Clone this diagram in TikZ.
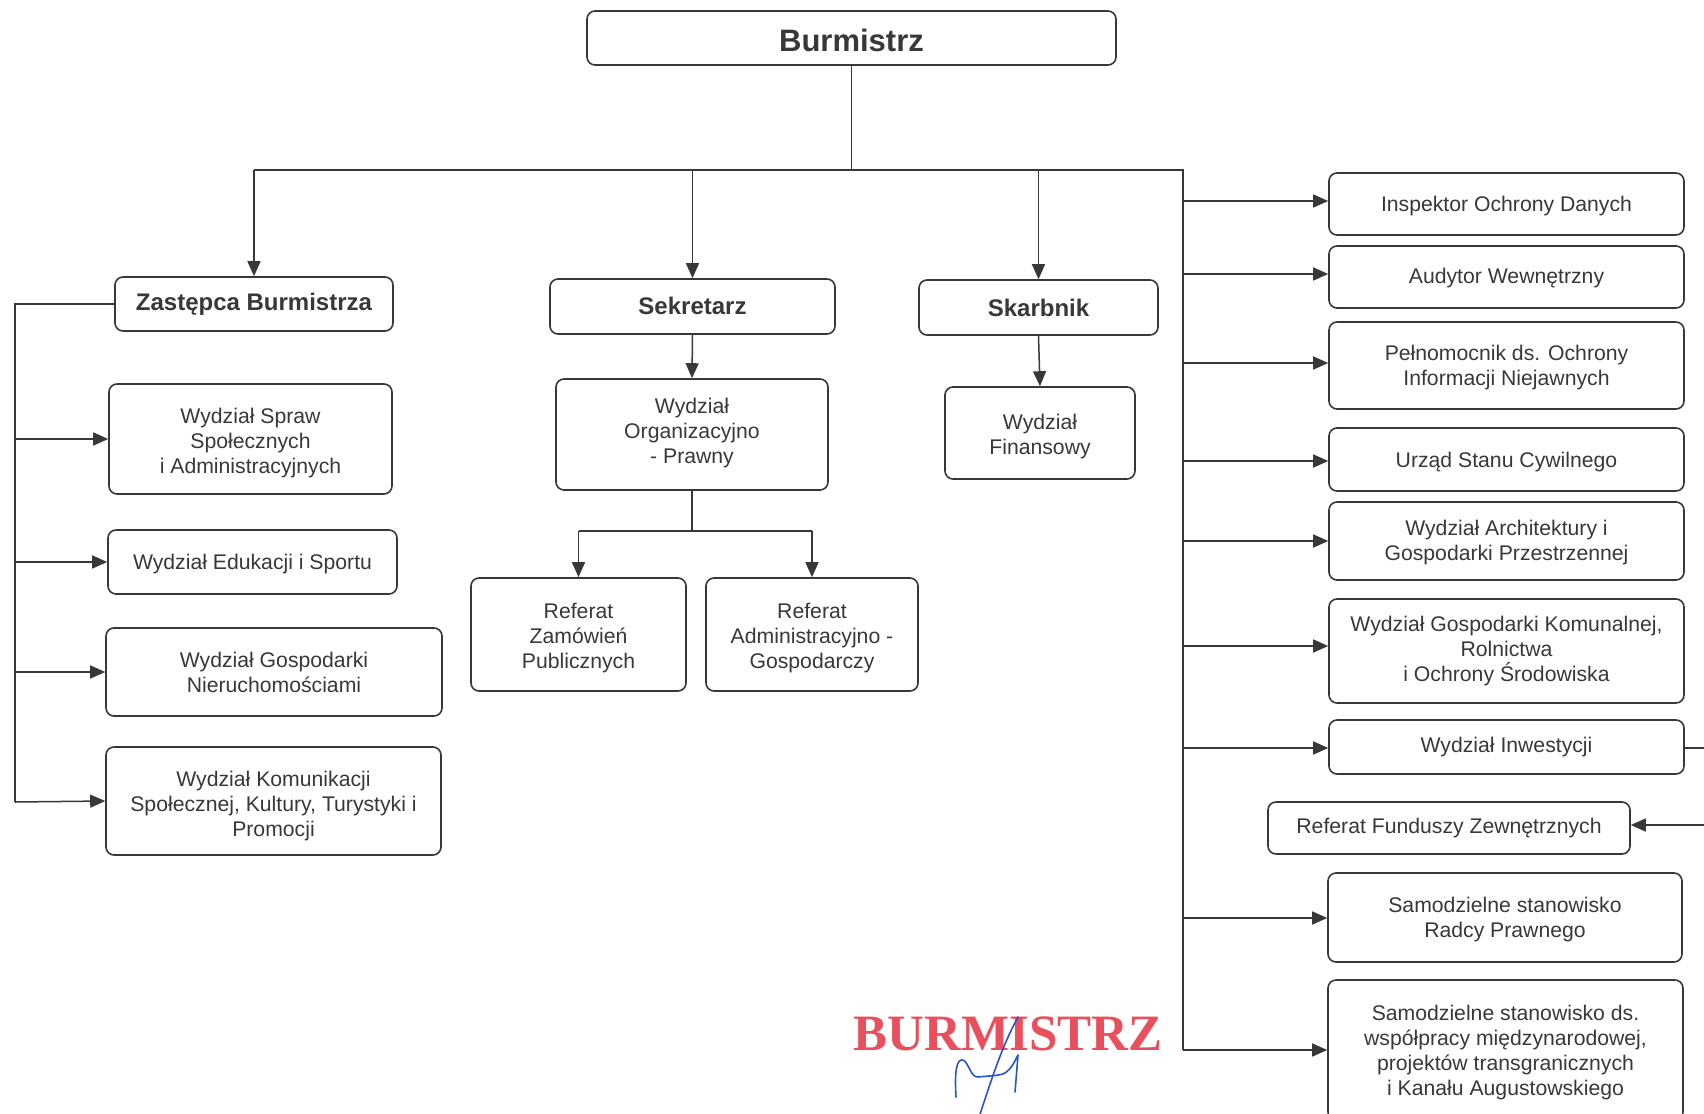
\documentclass[tikz,border=0pt]{standalone}
\usepackage{fontspec}
\setmainfont{Liberation Sans}
\newfontfamily\stampfont{Liberation Serif}
\usetikzlibrary{arrows.meta}
\definecolor{ink}{HTML}{383838}
\definecolor{stampred}{HTML}{E8505E}
\definecolor{sigblue}{HTML}{2A55C8}
\tikzset{
  box/.style={draw=ink, line width=0.8pt, rounded corners=4pt, inner sep=0pt},
  boxtext/.style={text=ink, align=center, inner sep=0pt, font=\fontsize{10.6pt}{12.5pt}\selectfont},
  boldtext/.style={boxtext, font=\bfseries\fontsize{12pt}{14pt}\selectfont},
  conn/.style={draw=ink, line width=0.75pt},
  arr/.style={conn, -{Triangle[length=7.5pt,width=6.5pt]}},
}
% \bx[textstyle]{name}{x1}{y1}{x2}{y2}{dy}{text}
\newcommand\bx[8][boxtext]{%
  \node[box, minimum width={(#5-#3)*0.5pt}, minimum height={(#6-#4)*0.5pt}] (#2) at ({(#3+#5)/2},{(#4+#6)/2}) {};%
  \node[#1] (#2-t) at ([yshift={-(#7)*0.5pt}]#2.center) {#8};}
\begin{document}
\begin{tikzpicture}[x=0.5pt,y=-0.5pt]
\useasboundingbox (0,0) rectangle (1704,1114);
\clip (0,0) rectangle (1704,1114);
\fill[white] (0,0) rectangle (1704,1114);

% top
\bx[boldtext]{burm}{587}{11}{1116}{65}{2}{\fontsize{15.5pt}{17pt}\selectfont Burmistrz}
\bx[boldtext]{zast}{115}{277}{393}{331}{0}{Zastępca Burmistrza}
\bx[boldtext]{sek}{550}{279}{835}{334}{-1}{Sekretarz}
\bx[boldtext]{skar}{919}{280}{1158}{335}{0}{Skarbnik}

% left column
\bx{wss}{109}{384}{392}{494}{4.5}{Wydział Spraw\\Społecznych\\i Administracyjnych}
\bx{weds}{108}{530}{397}{594}{2}{Wydział Edukacji i Sportu}
\bx{wgn}{106}{628}{442}{716}{0}{Wydział Gospodarki\\Nieruchomościami}
\bx{wks}{106}{747}{441}{855}{5.5}{Wydział Komunikacji\\Społecznej, Kultury, Turystyki i\\Promocji}

% middle
\bx{wop}{556}{379}{828}{490}{-1}{Wydział\\Organizacyjno\\- Prawny}
\bx{rzp}{471}{578}{686}{691}{4}{Referat\\Zamówień\\Publicznych}
\bx{rag}{706}{578}{918}{691}{4}{Referat\\Administracyjno -\\Gospodarczy}
\bx{wf}{945}{387}{1135}{479}{4}{Wydział\\Finansowy}

% right column
\bx{ido}{1329}{173}{1684}{235}{2}{Inspektor Ochrony Danych}
\bx{aud}{1329}{246}{1684}{308}{1}{Audytor Wewnętrzny}
\bx{pel}{1329}{322}{1684}{409}{2}{Pełnomocnik ds. Ochrony\\Informacji Niejawnych}
\bx{usc}{1329}{428}{1684}{491}{3}{Urząd Stanu Cywilnego}
\bx{wag}{1329}{502}{1684}{580}{2}{Wydział Architektury i\\Gospodarki Przestrzennej}
\bx{wgk}{1329}{599}{1684}{703}{0}{Wydział Gospodarki Komunalnej,\\Rolnictwa\\i Ochrony Środowiska}
\bx{winw}{1329}{720}{1684}{774}{0}{Wydział Inwestycji}
\bx{rfz}{1268}{802}{1630}{854}{0}{Referat Funduszy Zewnętrznych}
\bx{srp}{1328}{873}{1682}{962}{2}{Samodzielne stanowisko\\Radcy Prawnego}
\bx{ssw}{1328}{980}{1683}{1120}{3}{Samodzielne stanowisko ds.\\współpracy międzynarodowej,\\projektów transgranicznych\\i Kanału Augustowskiego}

% coordinates
\coordinate (bl) at (254,170);
\coordinate (br) at (1183,170);
\coordinate (rb) at (1183,1050);
\coordinate (lt) at (15,0);
\coordinate (lb) at (15,802);
\coordinate (ms) at (692,531);
\coordinate (ex) at (1730,0);

% top connectors
\draw[conn] (burm.south) -- (burm.south |- bl);
\draw[conn] (bl) -- (br) -- (rb);
\draw[arr] (bl) -- (zast.north);
\draw[arr] (sek.north |- bl) -- (sek.north);
\draw[arr] (skar.north |- bl) -- (skar.north);

% left
\draw[conn] (zast.west) -- (zast.west -| lt) -- (lb);
\draw[arr] (lt |- wss.west) -- (wss.west);
\draw[arr] (lt |- weds.west) -- (weds.west);
\draw[arr] (lt |- wgn.west) -- (wgn.west);
\draw[arr] (lb) -- (wks.west);

% middle
\draw[arr] (sek.south) -- (wop.north);
\draw[conn] (wop.south) -- (ms);
\draw[conn] (rzp.north |- ms) -- (rag.north |- ms);
\draw[arr] (rzp.north |- ms) -- (rzp.north);
\draw[arr] (rag.north |- ms) -- (rag.north);
\draw[arr] (skar.south) -- (wf.north);

% right
\draw[arr] (br |- 0,201) -- (ido.west |- 0,201);
\draw[arr] (br |- 0,274) -- (aud.west |- 0,274);
\draw[arr] (br |- 0,363) -- (pel.west |- 0,363);
\draw[arr] (br |- 0,461) -- (usc.west |- 0,461);
\draw[arr] (br |- 0,541) -- (wag.west |- 0,541);
\draw[arr] (br |- 0,646) -- (wgk.west |- 0,646);
\draw[arr] (br |- 0,748) -- (winw.west |- 0,748);
\draw[arr] (br |- 0,918) -- (srp.west |- 0,918);
\draw[arr] (rb) -- (rb -| ssw.west);
\draw[arr] (winw.east |- 0,748) -- (ex |- 0,748) |- (rfz.east |- 0,825);

% stamp and signature
\node[text=stampred, font=\stampfont\bfseries\fontsize{25.5pt}{28pt}\selectfont, anchor=base] (stamp) at (1008,1050) {BURMISTRZ};
\draw[sigblue, line width=0.8pt, line cap=round] (1018,1017) .. controls (1000,1050) and (990,1085) .. (980,1114);
\draw[sigblue, line width=0.8pt, line cap=round, line join=round]
  (956,1097) .. controls (955,1080) and (955,1062) .. (961,1060)
  .. controls (968,1058) and (970,1078) .. (978,1077)
  .. controls (988,1076) and (995,1076) .. (1003,1074)
  .. controls (1012,1070) and (1016,1058) .. (1018,1055)
  .. controls (1017,1068) and (1016,1080) .. (1015,1092);
\end{tikzpicture}
\end{document}
